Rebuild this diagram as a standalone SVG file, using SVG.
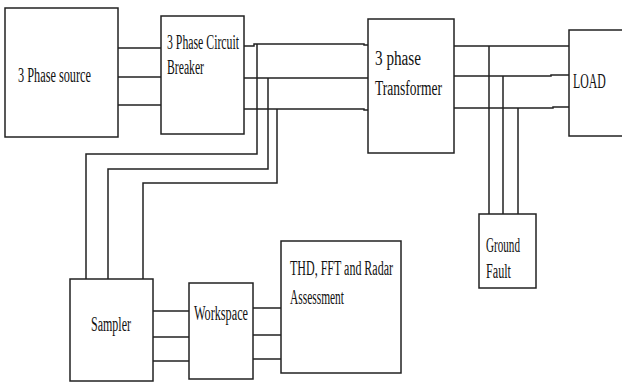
<svg xmlns="http://www.w3.org/2000/svg" width="622" height="385" viewBox="0 0 622 385">
<style>
.box{fill:#fff;stroke:#222;stroke-width:1.5}
.w{fill:none;stroke:#222;stroke-width:1.5}
text{font-family:"Liberation Serif","Times New Roman",serif;font-size:20px;fill:#111}
</style>
<rect width="622" height="385" fill="#fff"/>
<g id="connectors">
<path class="w" d="M118 48H161M118 77H161M118 105H161"/>
<path class="w" d="M244 46H254V44H364V45H368M244 78H368M244 109H364V110H368"/>
<path class="w" d="M257 44V154H86V279M268 78V169H108V279M277 109V183H143V279"/>
<path class="w" d="M454 46H569M454 76H551V75H569M454 108H553V107H569"/>
<path class="w" d="M489 46V214M503 76V214M518 108V214"/>
<path class="w" d="M153 311H189M153 337H189M153 361H189"/>
<path class="w" d="M253 308H281M253 335H281M253 359H281"/>
</g>
<g id="source"><rect class="box" x="5" y="8" width="113" height="129"/><text x="18" y="82" textLength="73" lengthAdjust="spacingAndGlyphs">3 Phase source</text></g>
<g id="breaker"><rect class="box" x="161" y="16" width="83" height="118"/><text x="167" y="49" textLength="72" lengthAdjust="spacingAndGlyphs">3 Phase Circuit</text><text x="167" y="74" textLength="37" lengthAdjust="spacingAndGlyphs">Breaker</text></g>
<g id="transformer"><rect class="box" x="368" y="19" width="86" height="134"/><text x="375" y="65" textLength="46" lengthAdjust="spacingAndGlyphs">3 phase</text><text x="375" y="95" textLength="67" lengthAdjust="spacingAndGlyphs">Transformer</text></g>
<g id="load"><rect class="box" x="569" y="30" width="60" height="106"/><text transform="translate(573 88) scale(0.59 1)" x="0" y="0" font-size="21">LOAD</text></g>
<g id="ground"><rect class="box" x="479" y="214" width="57" height="74"/><text x="486" y="252" textLength="34" lengthAdjust="spacingAndGlyphs">Ground</text><text x="486" y="278" textLength="25" lengthAdjust="spacingAndGlyphs">Fault</text></g>
<g id="sampler"><rect class="box" x="70" y="279" width="83" height="102"/><text x="91" y="331" textLength="40" lengthAdjust="spacingAndGlyphs">Sampler</text></g>
<g id="workspace"><rect class="box" x="189" y="283" width="64" height="96"/><text x="194" y="320" textLength="54" lengthAdjust="spacingAndGlyphs">Workspace</text></g>
<g id="thd"><rect class="box" x="281" y="241" width="120" height="132"/><text x="290" y="275" font-size="21" textLength="103" lengthAdjust="spacingAndGlyphs">THD, FFT and Radar</text><text x="290" y="304" font-size="21" textLength="54" lengthAdjust="spacingAndGlyphs">Assessment</text></g>
</svg>
